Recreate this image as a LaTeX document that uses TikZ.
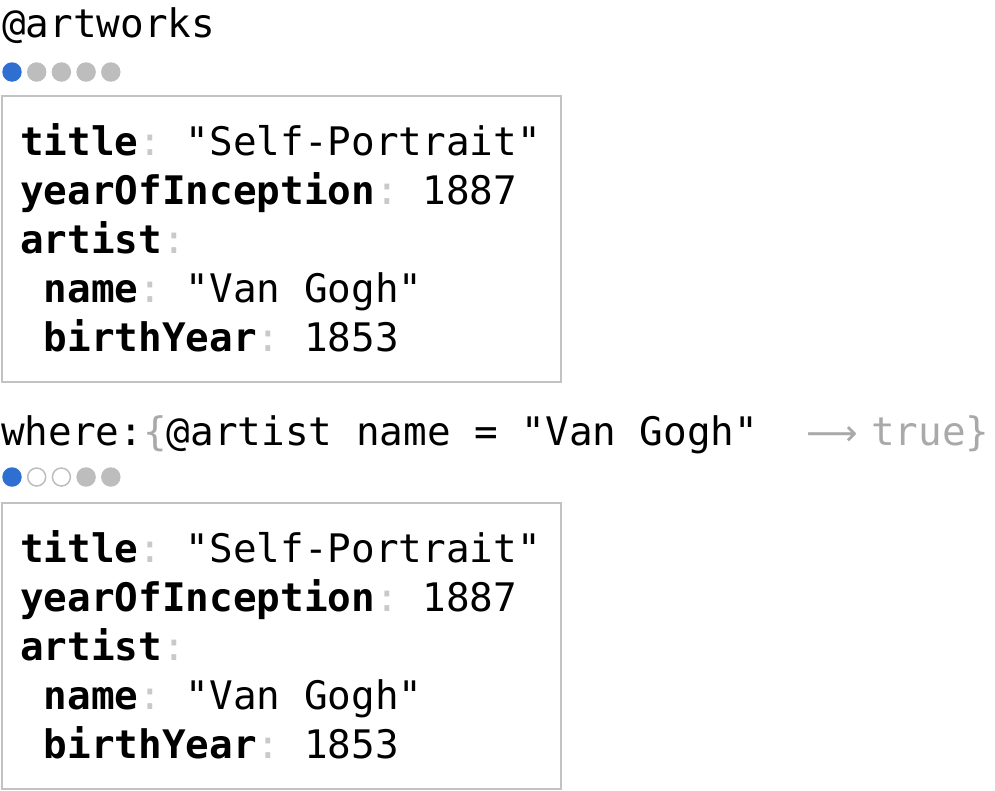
\documentclass[tikz,border=0pt]{standalone}
\usepackage{fontspec}
\setmonofont{DejaVu Sans Mono}
\newfontfamily\arrowfont{DejaVu Sans}
\definecolor{dotblue}{HTML}{2F6FD1}
\definecolor{dotgray}{HTML}{BDBDBD}
\definecolor{hintgray}{HTML}{A9A9A9}
\definecolor{colongray}{HTML}{C9C9C9}
\definecolor{boxgray}{HTML}{C2C2C2}
\tikzset{ %all sizes in pt, y grows downwards
  {code line/.style} ={anchor=base west, inner sep=0, text=black,
                       font=\ttfamily\fontsize{39.3}{46}\selectfont},
  {hint text/.style} ={code line, text=hintgray},
  {record box/.style} ={rectangle, draw=boxgray, line width=2pt,
                        anchor=north west, inner sep=0,
                        minimum width=559pt, minimum height=286pt},
  {page dot/.style} ={circle, inner sep=0, minimum size=19.5pt},
  {current dot/.style} ={page dot, fill=dotblue},
  {done dot/.style} ={page dot, fill=dotgray},
  {open dot/.style} ={page dot, draw=dotgray, line width=1.5pt,
                      minimum size=18pt},
 }
\newcommand\keyname[1]{\textbf{#1}\textcolor{colongray}{:}}

\begin{document}
\begin{tikzpicture}[x=1pt,y=-1pt]
\useasboundingbox (0,0) rectangle (995,790);
\node[code line] (coll) at (2,37) {@artworks};
\node[current dot] (pa1) at (12,72) {};
\foreach \i in {2,...,5}
  \node[done dot] (pa\i) at ({12+24.7*(\i-1)},72) {};
% the two records
\foreach \off/\r in {0/a,407/b} {
  \node[record box] (box\r) at (1,95+\off) {};
  \node[code line] (title\r) at (20,155+\off) {\keyname{title} "Self-Portrait"};
  \node[code line] (year\r) at (20,204+\off) {\keyname{yearOfInception} 1887};
  \node[code line] (artist\r) at (20,253+\off) {\keyname{artist}};
  \node[code line] (name\r) at (20,302+\off) {\ \keyname{name} "Van Gogh"};
  \node[code line] (birth\r) at (20,351+\off) {\ \keyname{birthYear} 1853};
}
\node[code line] (where) at (1,445)
  {where:\textcolor{hintgray}{\{}@artist name = "Van Gogh"};
\node[hint text] (arrow) at (806,445) {\arrowfont\fontsize{36}{40}\selectfont ⟶};
\node[hint text] (result) at (871,445) {true\}};
\node[current dot] (pb1) at (12,477) {};
\node[open dot] (pb2) at (36.7,477) {};
\node[open dot] (pb3) at (61.4,477) {};
\node[done dot] (pb4) at (86.1,477) {};
\node[done dot] (pb5) at (110.8,477) {};
\end{tikzpicture}
\end{document}
